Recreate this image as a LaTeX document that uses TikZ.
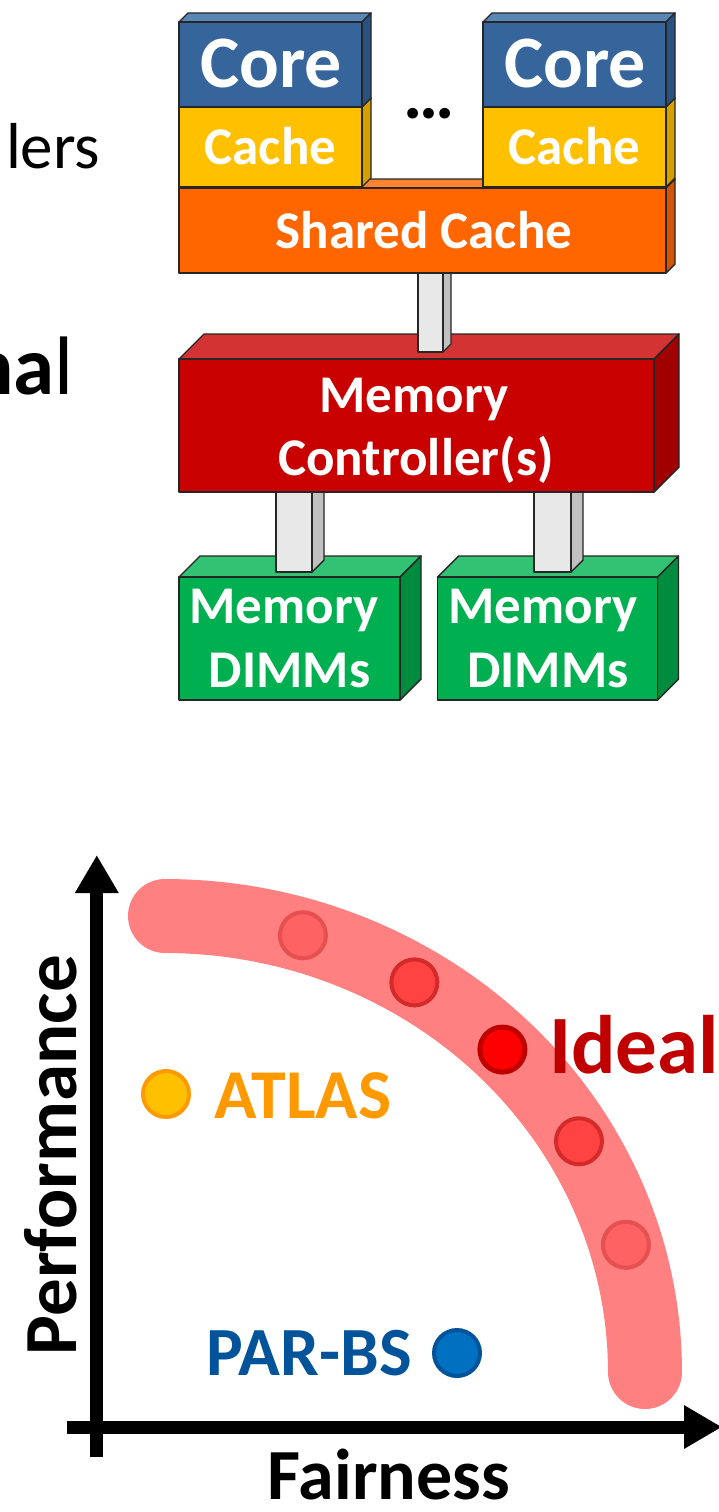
\documentclass[tikz,border=0pt]{standalone}
\usepackage{fontspec}
\setmainfont{Carlito}
\usetikzlibrary{arrows.meta}

% face colours of the blocks
\definecolor{edgegray}{HTML}{262626}
\definecolor{coreF}{HTML}{35659A}
\definecolor{coreT}{HTML}{5A86B5}
\definecolor{coreS}{HTML}{2A5280}
\definecolor{cacheF}{HTML}{FFC000}
\definecolor{cacheS}{HTML}{D4A000}
\definecolor{shF}{HTML}{FF6600}
\definecolor{shT}{HTML}{FF8533}
\definecolor{shS}{HTML}{D45500}
\definecolor{mcF}{HTML}{C80000}
\definecolor{mcT}{HTML}{D43333}
\definecolor{mcS}{HTML}{A00000}
\definecolor{dimF}{HTML}{00B050}
\definecolor{dimT}{HTML}{33C273}
\definecolor{dimS}{HTML}{008C3E}
\definecolor{pilF}{HTML}{E8E8E8}
\definecolor{pilS}{HTML}{C0C0C0}
% chart colours
\definecolor{bandpink}{HTML}{FF8080}
\definecolor{softdotF}{HTML}{FF6262}
\definecolor{softdotE}{HTML}{E65050}
\definecolor{middotF}{HTML}{FF4242}
\definecolor{middotE}{HTML}{D42A2A}
\definecolor{idealred}{HTML}{C00000}
\definecolor{idealdot}{HTML}{FF0000}
\definecolor{atlasorange}{HTML}{FF9900}
\definecolor{atlasgold}{HTML}{FFC000}
\definecolor{parbsblue}{HTML}{02539A}
\definecolor{parbsdot}{HTML}{0070C0}

% a block seen slightly from above and right:
% #1,#2 front top-left, #3,#4 front bottom-right, #5 depth, #6 front, #7 top, #8 side
\newcommand{\cuboid}[8]{%
  \filldraw[edge, fill=#7] (#1,#2) -- ({#1+#5},{#2-#5}) -- ({#3+#5},{#2-#5}) -- (#3,#2) -- cycle;
  \filldraw[edge, fill=#8] (#3,#2) -- ({#3+#5},{#2-#5}) -- ({#3+#5},{#4-#5}) -- (#3,#4) -- cycle;
  \filldraw[edge, fill=#6] (#1,#2) rectangle (#3,#4);
}

\begin{document}
\begin{tikzpicture}[x=1pt,y=-1pt,
  edge/.style={draw=edgegray,line width=1.4pt,line join=round},
  lbl/.style={inner sep=0pt,anchor=base},
  bigwhite/.style={lbl,text=white,font=\bfseries\fontsize{74}{80}\selectfont},
  midwhite/.style={lbl,text=white,font=\bfseries\fontsize{53}{60}\selectfont},
  axis/.style={line width=13pt,-{Triangle[length=38pt,width=41pt]}},
  band/.style={draw=bandpink,line width=74pt,line cap=round},
  softdot/.style={circle,minimum size=46pt,inner sep=0pt,line width=4pt,fill=softdotF,draw=softdotE},
  middot/.style={circle,minimum size=46pt,inner sep=0pt,line width=4pt,fill=middotF,draw=middotE},
  idealdotst/.style={circle,minimum size=45pt,inner sep=0pt,line width=5pt,fill=idealdot,draw=idealred},
]
\clip (0,0) rectangle (719,1512);

% ---------- left column text ----------
\node[inner sep=0pt,anchor=base east,font=\fontsize{65}{70}\selectfont] (lers) at (100.5,168) {lers};
\node[inner sep=0pt,anchor=base east,font=\fontsize{83}{90}\selectfont] (nal) at (74,394) {{\bfseries na}l};

% ---------- memory hierarchy ----------
% DIMMs
\cuboid{179}{577}{400}{700}{21}{dimF}{dimT}{dimS}
\cuboid{437.5}{577}{657.5}{700}{21}{dimF}{dimT}{dimS}
% channels from the controller down to the DIMMs
\cuboid{276}{480}{312}{572}{12}{pilF}{pilF}{pilS}
\cuboid{534}{480}{571}{572}{12}{pilF}{pilF}{pilS}
% memory controller
\cuboid{179}{359}{654}{492}{25}{mcF}{mcT}{mcS}
% link from the shared cache to the controller
\cuboid{418}{260}{443}{352}{8}{pilF}{pilF}{pilS}
% shared cache
\cuboid{179}{188}{666}{273}{9}{shF}{shT}{shS}
% private caches and cores
\cuboid{179}{107}{362}{187}{9}{cacheF}{cacheF}{cacheS}
\cuboid{483}{107}{666}{187}{9}{cacheF}{cacheF}{cacheS}
\cuboid{179}{22}{362}{107}{9}{coreF}{coreT}{coreS}
\cuboid{483}{22}{666}{107}{9}{coreF}{coreT}{coreS}

\node[bigwhite] (core1) at (271,88) {Core};
\node[bigwhite] (core2) at (575,88) {Core};
\node[midwhite] (cache1) at (270.5,164) {Cache};
\node[midwhite] (cache2) at (574.5,164) {Cache};
\node[lbl,font=\bfseries\fontsize{72}{80}\selectfont] (more) at (429,118) {…};
\node[midwhite] (shared) at (424,248) {Shared Cache};
\node[midwhite] (mc1) at (414,412) {Memory};
\node[midwhite] (mc2) at (416,475) {Controller(s)};
\node[midwhite] (dimA1) at (284,623) {Memory};
\node[midwhite] (dimA2) at (289.5,687) {DIMMs};
\node[midwhite] (dimB1) at (543,623) {Memory};
\node[midwhite] (dimB2) at (548,687) {DIMMs};

% ---------- performance / fairness chart ----------
\coordinate (origin) at (96.8,1427);
\coordinate (ytop) at (96.8,855);
\coordinate (ybot) at (96.8,1457);
\coordinate (xleft) at (66.5,1427);
\coordinate (xright) at (722,1427);

% trade-off band
\draw[band] plot[domain=90:0,samples=80] ({165+480*cos(\x)},{1372-456*sin(\x)});

\draw[axis] (ybot) -- (ytop);
\draw[axis] (xleft) -- (xright);

\node[softdot] (p1) at ({165+480*cos(73.3)},{1372-456*sin(73.3)}) {};
\node[middot] (p2) at ({165+480*cos(58.7)},{1372-456*sin(58.7)}) {};
\node[idealdotst] (p3) at ({163+480*cos(45)},{1372-456*sin(45)}) {};
\node[middot] (p4) at ({165+480*cos(30.4)},{1372-456*sin(30.4)}) {};
\node[softdot] (p5) at ({165+480*cos(16.2)},{1372-456*sin(16.2)}) {};

\node[lbl,anchor=base west,text=idealred,font=\bfseries\fontsize{83}{90}\selectfont] (ideal) at (549,1073) {Ideal};

\node[circle,minimum size=46pt,inner sep=0pt,line width=4pt,fill=atlasgold,draw=atlasorange] (atlasdot) at (166,1094) {};
\node[lbl,text=atlasorange,font=\bfseries\fontsize{70}{76}\selectfont] (atlas) at (303,1118) {ATLAS};

\node[circle,minimum size=46pt,inner sep=0pt,line width=4pt,fill=parbsdot,draw=parbsblue] (parbsdot) at (457,1353) {};
\node[lbl,text=parbsblue,font=\bfseries\fontsize{69}{76}\selectfont] (parbs) at (309,1375) {PAR-BS};

\node[lbl,rotate=90,font=\bfseries\fontsize{75}{80}\selectfont] (perf) at (76,1155) {Performance};
\node[lbl,text depth=0pt,font=\bfseries\fontsize{72}{80}\selectfont] (fair) at (389,1499) {Fairness};
\end{tikzpicture}
\end{document}
